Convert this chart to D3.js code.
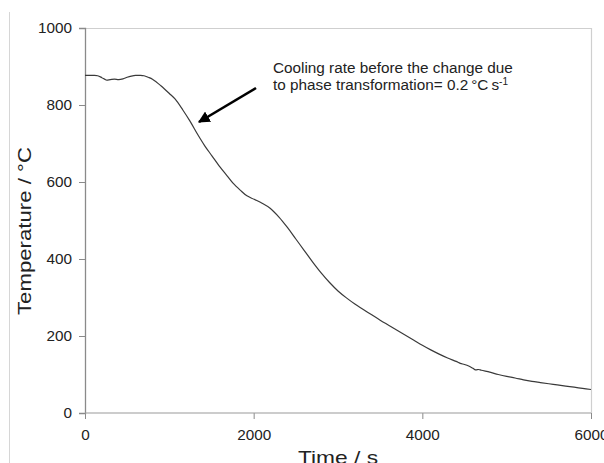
<!DOCTYPE html>
<html><head><meta charset="utf-8">
<script src="https://cdn.jsdelivr.net/npm/d3@7"></script>
<style>body{margin:0;background:#fff}svg{display:block}text{font-family:"Liberation Sans",Arial,sans-serif;fill:#222}</style>
</head><body><svg id="c" width="604" height="463"></svg>
<script>
const times = [0,100,150,200,250,300,350,400,450,500,550,600,650,700,750,800,900,1000,1070,1160,1245,1340,1420,1505,1600,1685,1755,1840,1920,2005,2100,2195,2300,2400,2500,2600,2700,2800,2900,3000,3100,3200,3300,3400,3500,3600,3700,3800,3900,4000,4100,4200,4300,4400,4450,4500,4550,4600,4630,4670,4700,4800,4900,5000,5100,5200,5300,5400,5500,5600,5700,5800,5900,6000];
const temps = [877,877,876,871,865,866,867,866,868,872,875,877,877,876,872,867,850,830,815,787,758,722,694,668,639,616,597,579,564,555,545,532,509,482,452,422,392,364,339,317,299,283,269,255,241,228,215,202,189,176,164,153,143,134,129,126,122,116,112,113,111,106,100,95,91,86,82,79,76,73,70,67,64,61];
const xTicks = [0,2000,4000,6000];
const yTicks = [0,200,400,600,800,1000];
const annotationLines = ["Cooling rate before the change due", "to phase transformation= 0.2\u2009\u00B0C\u2009s"];

const svg = d3.select("#c");
const x = d3.scaleLinear().domain([0,6000]).range([85,591]);
const y = d3.scaleLinear().domain([0,1000]).range([413,28]);

// outer chart border (left edge)
svg.append("line").attr("x1",9.5).attr("x2",9.5).attr("y1",12).attr("y2",463).attr("stroke","#d6d6d6");
// plot frame
svg.append("path").attr("d",`M${x(0)},${y(1000)+0.5}H${x(6000)+0.5}V${y(0)}`).attr("fill","none").attr("stroke","#cfcfcf").attr("stroke-width",1.2);

const xa = svg.append("g").attr("transform",`translate(0,${y(0)})`)
  .call(d3.axisBottom(x).tickValues(xTicks).tickSize(6).tickPadding(10).tickFormat(d3.format("d")));
const ya = svg.append("g").attr("transform",`translate(${x(0)},0)`)
  .call(d3.axisLeft(y).tickValues(yTicks).tickSize(6).tickPadding(7).tickFormat(d3.format("d")));
[xa,ya].forEach(g=>{
  g.selectAll("path").attr("stroke","#8a8a8a").attr("stroke-width",1.3);
  g.selectAll("line").attr("stroke","#8a8a8a");
  g.selectAll("text").attr("font-size",15.3).attr("fill","#222").attr("font-family","Liberation Sans, Arial, sans-serif");
});
xa.select(".domain").remove();
svg.append("line").attr("x1",x(0)).attr("x2",x(6000)).attr("y1",y(0)).attr("y2",y(0)).attr("stroke","#999").attr("stroke-width",1.2);

const line = d3.line().x((d,i)=>x(times[i])).y(d=>y(d)).curve(d3.curveCatmullRom.alpha(0.5));
svg.append("path").attr("d",line(temps)).attr("fill","none").attr("stroke","#3a3a3a").attr("stroke-width",1.2);

// axis titles
svg.append("text").attr("x",338).attr("y",463.5).attr("text-anchor","middle").attr("font-size",18.5)
  .attr("textLength",80).attr("lengthAdjust","spacingAndGlyphs").text("Time / s");
svg.append("text").attr("transform","translate(30.5,231) rotate(-90)").attr("text-anchor","middle").attr("font-size",18.5)
  .attr("textLength",168).attr("lengthAdjust","spacingAndGlyphs").text("Temperature / \u00B0C");

// annotation
const ann = svg.append("text").attr("font-size",15.3);
ann.append("tspan").attr("x",273).attr("y",73).text(annotationLines[0]);
ann.append("tspan").attr("x",273).attr("y",90).text(annotationLines[1]);
ann.append("tspan").attr("dy",-5.5).attr("font-size",10).text("-1");

// arrow
svg.append("defs").append("marker").attr("id","ah").attr("viewBox","0 0 10 10").attr("refX",9).attr("refY",5)
  .attr("markerWidth",4.5).attr("markerHeight",4.5).attr("orient","auto")
  .append("path").attr("d","M0,0L10,5L0,10z").attr("fill","#000");
svg.append("line").attr("x1",256).attr("y1",88).attr("x2",199).attr("y2",122).attr("stroke","#000").attr("stroke-width",2.6).attr("marker-end","url(#ah)");
</script></body></html>
